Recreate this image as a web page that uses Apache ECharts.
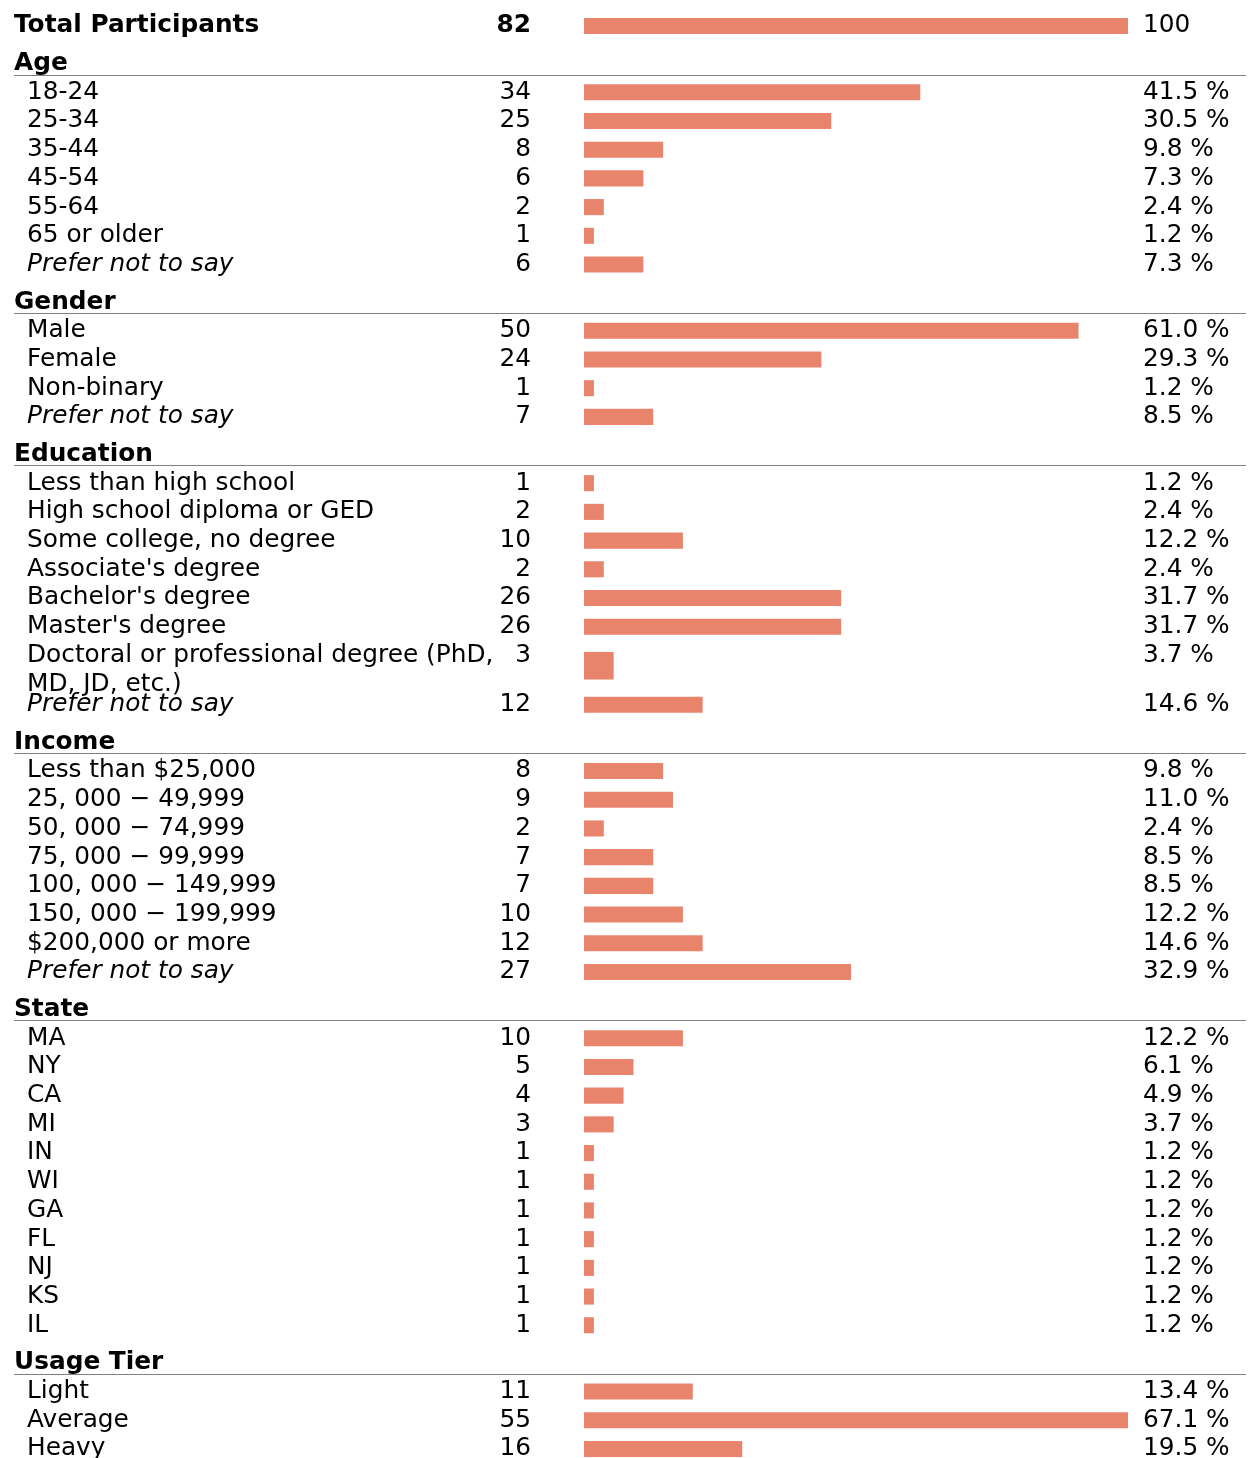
<!DOCTYPE html>
<html>
<head>
<meta charset="utf-8">
<script src="https://cdn.jsdelivr.net/npm/echarts@6/dist/echarts.min.js"></script>
<style>
  html, body { margin: 0; background: #fff; }
  #chart { width: 1249px; height: 1458px; }
</style>
</head>
<body>
<div id="chart"></div>
<script>
// data
const totalLabel = 'Total Participants'
const totalCount = 82

const ageLabels = ['18-24', '25-34', '35-44', '45-54', '55-64', '65 or older', 'Prefer not to say']
const ageCounts = [34, 25, 8, 6, 2, 1, 6]

const genderLabels = ['Male', 'Female', 'Non-binary', 'Prefer not to say']
const genderCounts = [50, 24, 1, 7]

const educationLabels = ['Less than high school', 'High school diploma or GED', 'Some college, no degree',
  "Associate's degree", "Bachelor's degree", "Master's degree",
  'Doctoral or professional degree (PhD, MD, JD, etc.)', 'Prefer not to say']
const educationCounts = [1, 2, 10, 2, 26, 26, 3, 12]

const incomeLabels = ['Less than $25,000', '25, 000 \u2212 49,999', '50, 000 \u2212 74,999', '75, 000 \u2212 99,999',
  '100, 000 \u2212 149,999', '150, 000 \u2212 199,999', '$200,000 or more', 'Prefer not to say']
const incomeCounts = [8, 9, 2, 7, 7, 10, 12, 27]

const stateLabels = ['MA', 'NY', 'CA', 'MI', 'IN', 'WI', 'GA', 'FL', 'NJ', 'KS', 'IL']
const stateCounts = [10, 5, 4, 3, 1, 1, 1, 1, 1, 1, 1]

const usageLabels = ['Light', 'Average', 'Heavy']
const usageCounts = [11, 55, 16]

const groups = [
  ['Age', ageLabels, ageCounts],
  ['Gender', genderLabels, genderCounts],
  ['Education', educationLabels, educationCounts],
  ['Income', incomeLabels, incomeCounts],
  ['State', stateLabels, stateCounts],
  ['Usage Tier', usageLabels, usageCounts]
]

// layout
const PITCH = 28.7 // px per row unit
const GROUP_GAP = 1.31
const FONT_SIZE = 24.8
const FONT = 'DejaVu Sans'
const BAR_COLOR = '#e8836c'
const WRAP_WIDTH = 480
const TEXT_SHIFT = 2

const measureCtx = document.createElement('canvas').getContext('2d')
measureCtx.font = FONT_SIZE + 'px "' + FONT + '"'
function wrapText (s) {
  const words = s.split(' ')
  const lines = []
  let cur = ''
  words.forEach(w => {
    const next = cur ? cur + ' ' + w : w
    if (cur && measureCtx.measureText(next).width > WRAP_WIDTH) {
      lines.push(cur)
      cur = w
    } else {
      cur = next
    }
  })
  lines.push(cur)
  return lines
}

const rows = []
rows.push({ kind: 'total', label: totalLabel, value: totalCount, y: 0, top: 0, h: 1, right: '100', lines: [totalLabel] })
let pos = 0
groups.forEach(([name, labels, counts]) => {
  pos += GROUP_GAP
  rows.push({ kind: 'header', label: name, value: 0, y: pos, top: pos, h: 1 })
  let edge = pos + 0.5
  labels.forEach((lab, i) => {
    const lines = wrapText(lab)
    const h = 1 + (lines.length - 1) * 0.72
    rows.push({
      kind: 'row',
      label: lab,
      lines: lines,
      value: counts[i],
      y: edge + h / 2,
      top: edge + 0.5,
      h: h,
      right: (counts[i] / totalCount * 100).toFixed(1) + ' %'
    })
    edge += h
  })
  pos = edge - 0.5
})

const xMax = Math.max(...groups.map(g => Math.max(...g[2])))

function renderItem (params, api) {
  const r = rows[params.dataIndex]
  const base = api.coord([0, api.value(1)])
  const end = api.coord([api.value(0), api.value(1)])
  const unit = api.size([0, 1])[1]
  const textY = api.coord([0, r.top])[1] - unit / 2 + TEXT_SHIFT
  const plain = FONT_SIZE + 'px "' + FONT + '"'
  const children = []
  if (r.kind === 'header') {
    children.push({
      type: 'text',
      style: { text: r.label, x: 14, y: base[1] + TEXT_SHIFT, font: 'bold ' + plain, fill: '#000', verticalAlign: 'middle', align: 'left' }
    })
    const ly = Math.round(base[1] + 0.45 * unit) + 0.5
    children.push({
      type: 'line',
      shape: { x1: 14, y1: ly, x2: 1246, y2: ly },
      style: { stroke: '#808080', lineWidth: 1 }
    })
    return { type: 'group', children }
  }
  const bold = r.kind === 'total'
  const italic = r.label === 'Prefer not to say'
  const labelFont = (italic ? 'italic ' : '') + (bold ? 'bold ' : '') + plain
  const countFont = (bold ? 'bold ' : '') + plain
  const barH = 0.56 * unit * r.h
  children.push({
    type: 'rect',
    shape: { x: base[0], y: base[1] + 2 - barH / 2, width: end[0] - base[0], height: barH },
    style: { fill: BAR_COLOR }
  })
  children.push({
    type: 'text',
    style: { text: r.lines.join('\n'), x: bold ? 14 : 27, y: textY, lineHeight: unit, font: labelFont, fill: '#000', verticalAlign: 'top', align: 'left' }
  })
  children.push({
    type: 'text',
    style: { text: String(r.value), x: 531, y: textY, lineHeight: unit, font: countFont, fill: '#000', verticalAlign: 'top', align: 'right' }
  })
  children.push({
    type: 'text',
    style: { text: r.right, x: api.coord([xMax, 0])[0] + 15, y: textY, lineHeight: unit, font: plain, fill: '#000', verticalAlign: 'top', align: 'left' }
  })
  return { type: 'group', children }
}

const chart = echarts.init(document.getElementById('chart'))
chart.setOption({
  animation: false,
  grid: { left: 584, right: 121, top: 0, bottom: 0 },
  xAxis: { type: 'value', min: 0, max: xMax, show: false },
  yAxis: { type: 'value', inverse: true, min: -24 / PITCH, max: (1458 - 24) / PITCH, show: false },
  series: [{
    type: 'custom',
    renderItem: renderItem,
    clip: false,
    encode: { x: 0, y: 1 },
    data: rows.map(r => [Math.min(r.value, xMax), r.y])
  }]
})
</script>
</body>
</html>
